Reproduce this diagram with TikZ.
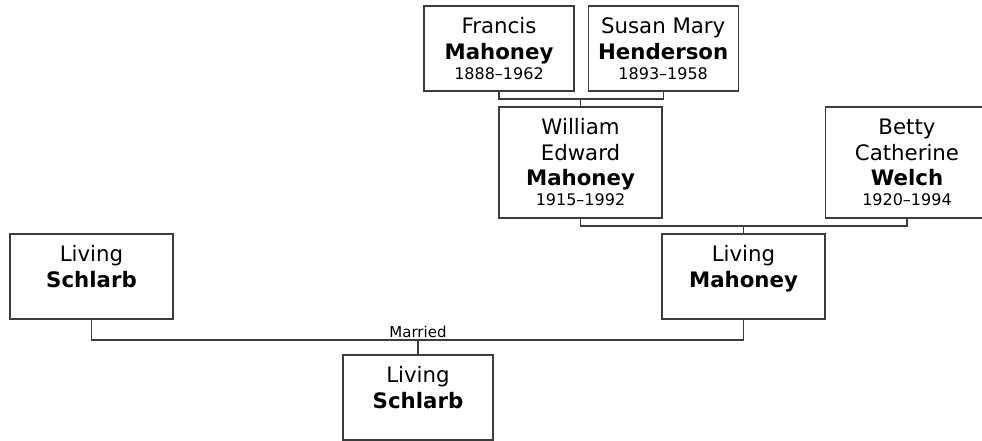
\documentclass[tikz,border=0pt]{standalone}
\usepackage{fontspec}
\setmainfont{DejaVu Sans}
\usetikzlibrary{positioning}
\definecolor{lc}{HTML}{3C3C3C}
\newcommand{\yrs}[1]{{\fontsize{16}{20}\selectfont #1}}

\begin{document}
\begin{tikzpicture}[
    x=1pt, y=-1pt,
    node distance=13pt and 13pt,
    per/.style={draw=lc, line width=1.2pt, fill=white, align=center,
                inner sep=0pt, font=\fontsize{21.3}{25.5}\selectfont},
    duo/.style={per, minimum width=150pt, minimum height=85pt},
    wide/.style={per, minimum width=163pt, minimum height=85pt},
    tall/.style={per, minimum width=163pt, minimum height=111pt},
    link/.style={draw=lc, line width=1.2pt},
    lab/.style={font=\fontsize{15}{18}\selectfont, inner sep=1.5pt}
]
\useasboundingbox (0,0) rectangle (982,441);

% grandparents
\node[duo] (fra) at (499,48.5) {Francis\\\textbf{Mahoney}\\[-5.5pt]\yrs{1888–1962}};
\node[duo, right=of fra] (sus) {Susan Mary\\\textbf{Henderson}\\[-5.5pt]\yrs{1893–1958}};

% parents
\node[tall] (wil) at (580.5,162.5) {William\\Edward\\\textbf{Mahoney}\\[-5.5pt]\yrs{1915–1992}};
\node[tall] (bet) at (907,162.5) {Betty\\Catherine\\\textbf{Welch}\\[-5.5pt]\yrs{1920–1994}};

% couple and child
\node[wide] (lma) at (743.5,276.5) {Living\\\textbf{Mahoney}\\[-5.5pt]\yrs{\phantom{0}}};
\node[wide] (lsc) at (91.5,276.5) {Living\\\textbf{Schlarb}\\[-5.5pt]\yrs{\phantom{0}}};
\node[duo] (kid) at (418,397.5) {Living\\\textbf{Schlarb}\\[-5.5pt]\yrs{\phantom{0}}};

\coordinate (j1) at (580.5,99);
\coordinate (j2) at (743.5,226);
\coordinate (j3) at (418,340);

\draw[link] (fra.south) |- (j1) -| (sus.south);
\draw[link] (j1) -- (wil.north);
\draw[link] (wil.south) |- (j2) -| (bet.south);
\draw[link] (j2) -- (lma.north);
\draw[link] (lsc.south) |- (j3) -| (lma.south);
\draw[link] (j3) -- node[lab, pos=0, above]{Married} (kid.north);
\end{tikzpicture}
\end{document}
